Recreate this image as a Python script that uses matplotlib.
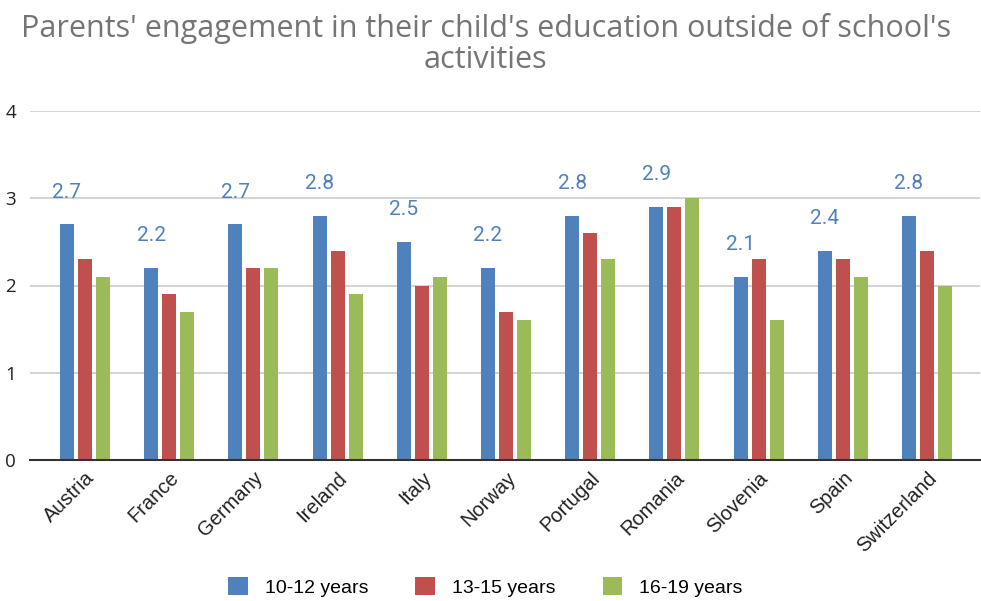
import matplotlib.pyplot as plt
import numpy as np

countries = ['Austria', 'France', 'Germany', 'Ireland', 'Italy', 'Norway',
             'Portugal', 'Romania', 'Slovenia', 'Spain', 'Switzerland']
age_10_12 = [2.7, 2.2, 2.7, 2.8, 2.5, 2.2, 2.8, 2.9, 2.1, 2.4, 2.8]
age_13_15 = [2.3, 1.9, 2.2, 2.4, 2.0, 1.7, 2.6, 2.9, 2.3, 2.3, 2.4]
age_16_19 = [2.1, 1.7, 2.2, 1.9, 2.1, 1.6, 2.3, 3.0, 1.6, 2.1, 2.0]
series_names = ['10-12 years', '13-15 years', '16-19 years']
colors = ['#4f81bd', '#c0504d', '#9bbb59']

fig = plt.figure(figsize=(9.81, 6.01), dpi=100)
ax = fig.add_axes([30/981, 1-460/601, 950/981, 349/601])

x = np.arange(len(countries))
w = 0.166
step = 0.214
for k, (vals, name, c) in enumerate(zip([age_10_12, age_13_15, age_16_19], series_names, colors)):
    ax.bar(x + (k-1)*step, vals, width=w, color=c, label=name, zorder=3)

# data labels for the first series only
for xi, v in zip(x, age_10_12):
    ax.text(xi - step, v + 0.37, f'{v:.1f}', ha='center', va='center',
            color='#4f81bd', fontsize=15, family='Roboto')

ax.set_ylim(0, 4)
ax.set_xlim(-0.653, 10.63)
ax.set_yticks([0, 1, 2, 3, 4])
ax.yaxis.grid(True, color='#cccccc', linewidth=1.2, zorder=0)
for s in ['top', 'right', 'left']:
    ax.spines[s].set_visible(False)
ax.spines['bottom'].set_color('#333333')
ax.spines['bottom'].set_linewidth(1.5)
ax.spines['bottom'].set_zorder(4)
ax.tick_params(axis='both', length=0, labelsize=13.5, colors='#222222')
ax.tick_params(axis='y', pad=10)
ax.tick_params(axis='x', pad=6)
ax.set_xticks(x)
ax.set_xticklabels(countries, rotation=45, ha='right', rotation_mode='anchor',
                   family='Liberation Sans', fontsize=14.5)
for t in ax.get_yticklabels():
    t.set_family('Open Sans')

fig.text(0.495, 1-28/601, "Parents' engagement in their child's education outside of school's",
         ha='center', va='center', fontsize=22, color='#757575', family='Open Sans')
fig.text(0.495, 1-60/601, "activities",
         ha='center', va='center', fontsize=22, color='#757575', family='Open Sans')

leg = fig.legend(loc='center', bbox_to_anchor=(0.495, 1-587/601), ncol=3, frameon=False,
                 prop={'family': 'Liberation Sans', 'size': 14}, handlelength=1.0,
                 handleheight=1.0, columnspacing=2.4, handletextpad=0.9)

plt.savefig('out.png', dpi=100)
